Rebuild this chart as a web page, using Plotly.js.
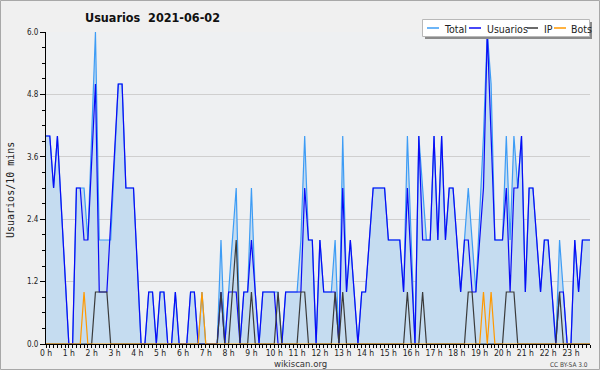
<!DOCTYPE html>
<html>
<head>
<meta charset="utf-8">
<script src="https://cdn.plot.ly/plotly-3.0.1.min.js"></script>
<style>
html,body{margin:0;padding:0;background:#f0f0f0;}
#chart{width:600px;height:370px;}
</style>
</head>
<body>
<div id="chart"></div>
<script>
// 10-minute slots, 0h00 .. 23h50 (144 slots); null = no point drawn
const usuarios = [
  4,4,3,4,null,null, 0,0,3,3,2,2,
  null,5,1,1,1,null, null,5,5,3,3,3,
  null,0,0,1,1,0, 1,1,0,0,1,0,
  0,0,1,1,0,0, 0,0,0,0,1,0,
  1,1,1,0,1,1, 2,1,0,1,1,1,
  1,0,0,1,1,1, 1,1,3,2,2,0,
  2,1,1,1,1,0, 3,1,2,1,0,1,
  1,2,3,3,3,3, 2,2,2,2,1,3,
  null,0,4,2,2,2, 4,2,4,2,3,3,
  2,1,2,2,1,1, null,3,6,null,2,2,
  2,3,1,3,3,4, 1,3,3,2,1,2,
  2,1,0,1,1,0, 0,2,1,2,2,2
];
const total = [
  4,4,3,4,null,null, 0,0,3,3,3,2,
  null,6,2,2,2,2, null,5,5,3,3,3,
  null,0,0,1,1,0, 1,1,0,0,1,0,
  0,0,1,1,0,1, 0,0,0,0,2,0,
  1,2,3,0,1,1, 3,1,0,1,1,1,
  1,1,0,1,1,1, 1,2,4,2,2,0,
  2,1,1,1,2,0, 4,1,2,1,0,1,
  1,2,3,3,3,3, 2,2,2,2,1,4,
  null,0,4,3,2,2, 4,2,4,2,3,3,
  2,1,2,3,2,1, null,4,6,5,2,2,
  2,4,2,4,3,4, 1,3,3,2,1,2,
  2,1,0,2,1,0, 0,2,1,2,2,2
];
const ip = [
  0,0,0,0,0,0, 0,0,0,0,0,0,
  0,1,1,1,1,0, 0,0,0,0,0,0,
  0,0,0,0,0,0, 0,0,0,0,0,0,
  0,0,0,0,0,0, 0,0,0,0,1,0,
  0,1,2,0,0,0, 1,0,0,0,0,0,
  0,1,0,0,0,0, 0,1,1,0,0,0,
  0,0,0,0,1,0, 1,0,0,0,0,0,
  0,0,0,0,0,0, 0,0,0,0,0,1,
  0,0,0,1,0,0, 0,0,0,0,0,0,
  0,0,0,1,1,0, 0,0,0,0,0,0,
  0,1,1,1,0,0, 0,0,0,0,0,0,
  0,0,0,1,0,0, 0,0,0,0,0,0
];
const bots = [
  0,0,0,0,0,0, 0,0,0,0,1,0,
  0,0,0,0,0,0, 0,0,0,0,0,0,
  0,0,0,0,0,0, 0,0,0,0,0,0,
  0,0,0,0,0,1, 0,0,0,0,0,0,
  0,0,0,0,0,0, 0,0,0,0,0,0,
  0,0,0,0,0,0, 0,0,0,0,0,0,
  0,0,0,0,0,0, 0,0,0,0,0,0,
  0,0,0,0,0,0, 0,0,0,0,0,0,
  0,0,0,0,0,0, 0,0,0,0,0,0,
  0,0,0,0,0,0, 0,1,0,1,0,0,
  0,0,0,0,0,0, 0,0,0,0,0,0,
  0,0,0,0,0,0, 0,0,0,0,0,0
];
const hourTicks = [0,6,12,18,24,30,36,42,48,54,60,66,72,78,84,90,96,102,108,114,120,126,132,138];
const hourLabels = ['0 h','1 h','2 h','3 h','4 h','5 h','6 h','7 h','8 h','9 h','10 h','11 h','12 h','13 h','14 h','15 h','16 h','17 h','18 h','19 h','20 h','21 h','22 h','23 h'];
const yTicks = [0, 1.2, 2.4, 3.6, 4.8, 6.0];
const yLabels = ['0.0','1.2','2.4','3.6','4.8','6.0'];
const seriesNames = ['Total','Usuarios','IP','Bots'];
const seriesColors = ['#3d9cf5','#0a0af5','#3a3a3a','#ff9900'];

const W = 600, H = 370, L = 46, R = 10, T = 32, B = 26;
const pw = W - L - R, ph = H - T - B;
const px = v => (v - L) / pw;          // pixel -> paper x
const py = v => (H - B - v) / ph;      // pixel -> paper y

const lineFor = (y, i, extra) => Object.assign({
  y: y, type: 'scatter', mode: 'lines', name: seriesNames[i],
  connectgaps: true, showlegend: false, hoverinfo: 'skip',
  line: {color: seriesColors[i], width: 1.2, shape: 'linear'}
}, extra || {});

const data = [
  lineFor(total, 0, {fill: 'tozeroy', fillcolor: '#c5dcf0'}),
  lineFor(usuarios, 1),
  lineFor(ip, 2),
  lineFor(bots, 3)
];

const FONT = 'DejaVu Sans Condensed, DejaVu Sans, sans-serif';
const shapes = [
  // outer frame
  {type:'rect', xref:'paper', yref:'paper', x0:px(0.5), x1:px(599.5), y0:py(369.5), y1:py(0.5),
   line:{color:'#a8a8a8', width:1}, fillcolor:'rgba(0,0,0,0)', layer:'above'},
  // legend shadow + box
  {type:'rect', xref:'paper', yref:'paper', x0:px(425), x1:px(592), y0:py(39), y1:py(22),
   line:{width:0}, fillcolor:'#8a8a8a', layer:'above'},
  {type:'rect', xref:'paper', yref:'paper', x0:px(422.5), x1:px(589.5), y0:py(36.5), y1:py(19.5),
   line:{color:'#b8b8b8', width:1}, fillcolor:'#ffffff', layer:'above'}
];
const legendX = [[427,439,442],[469,481,485],[527,538,542],[554,566,569]];
const annotations = [];
seriesNames.forEach((n, i) => {
  const [a, b, t] = legendX[i];
  shapes.push({type:'line', xref:'paper', yref:'paper', x0:px(a), x1:px(b), y0:py(28), y1:py(28),
    line:{color:seriesColors[i], width:1.5}, layer:'above'});
  annotations.push({xref:'paper', yref:'paper', x:px(t), y:py(28.5), xanchor:'left', yanchor:'middle',
    text:n, showarrow:false, font:{family:FONT, size:10.5, color:'#222'}});
});
annotations.push({xref:'paper', yref:'paper', x:px(300), y:py(363.5), xanchor:'center', yanchor:'middle',
  text:'wikiscan.org', showarrow:false, font:{family:FONT, size:9.5, color:'#333'}});
annotations.push({xref:'paper', yref:'paper', x:px(590), y:py(365), xanchor:'right', yanchor:'middle',
  text:'CC BY-SA 3.0', showarrow:false, font:{family:FONT, size:6.5, color:'#444'}});
annotations.push({xref:'paper', yref:'paper', x:px(10), y:py(190), xanchor:'center', yanchor:'middle', textangle:-90,
  text:'Usuarios/10 mins', showarrow:false, font:{family:'DejaVu Sans Mono, monospace', size:10, color:'#222'}});

const layout = {
  width: W, height: H,
  margin: {l: L, r: R, t: T, b: B, pad: 0},
  paper_bgcolor: '#f0f0f0', plot_bgcolor: '#eef0f2',
  showlegend: false,
  font: {family: FONT, color: '#222'},
  title: {text: '<b>Usuarios  2021-06-02</b>', xref: 'container', yref: 'container',
    x: 85 / W, xanchor: 'left', y: 1 - 18 / H, yanchor: 'middle',
    font: {family: FONT, size: 12.5, color: '#111'}},
  xaxis: {range: [0, 143], showgrid: false, zeroline: false, showline: true, linecolor: '#000', linewidth: 1,
    ticks: 'outside', ticklen: 3, tickcolor: '#000', tickmode: 'array', tickvals: hourTicks, ticktext: hourLabels,
    tickfont: {size: 8.5, color: '#222'}, ticklabelstandoff: -2,
    minor: {dtick: 1, tick0: 0, ticks: 'outside', ticklen: 3, tickcolor: '#000', showgrid: false},
    fixedrange: true},
  yaxis: {range: [0, 6], showgrid: true, gridcolor: '#cfcfcf', gridwidth: 1, zeroline: false,
    showline: true, linecolor: '#000', linewidth: 1,
    ticks: 'outside', ticklen: 5, tickcolor: '#000', tickmode: 'array', tickvals: yTicks, ticktext: yLabels,
    tickfont: {size: 8, color: '#222'},
    minor: {dtick: 0.3, tick0: 0, ticks: 'outside', ticklen: 3, tickcolor: '#000', showgrid: false},
    fixedrange: true},
  shapes: shapes,
  annotations: annotations
};

Plotly.newPlot('chart', data, layout, {staticPlot: true, displayModeBar: false});
</script>
</body>
</html>
